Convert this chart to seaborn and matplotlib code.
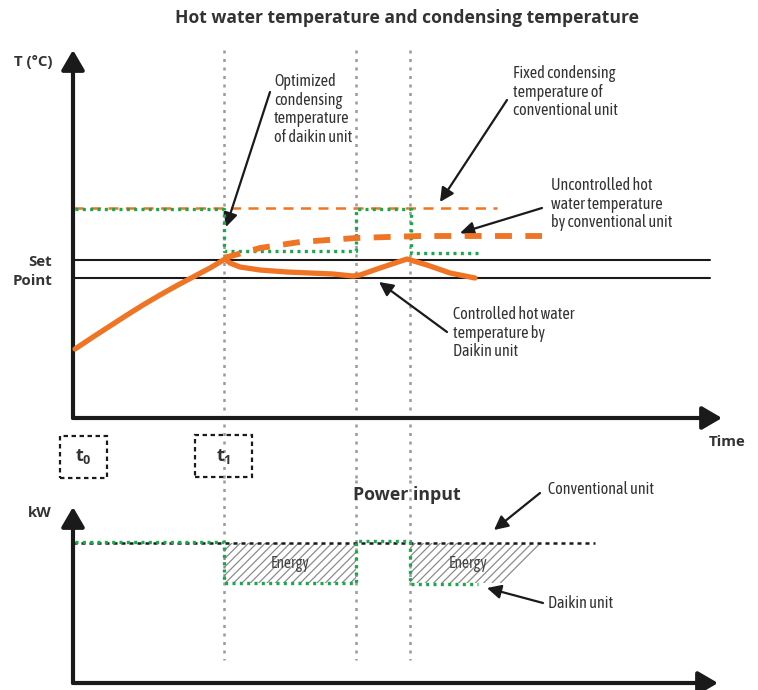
# -*- coding: utf-8 -*-
"""
Schema: hot water / condensing temperature and power input, conventional vs Daikin unit
"""
import numpy as np
import pandas as pd
import matplotlib
matplotlib.use('Agg')
import matplotlib.pyplot as plt
import seaborn as sns

# ---- data (schematic units: 1 time unit / 1 temp unit) ----
events = [15.1, 28.3, 33.7]          # t1, end of first cycle, restart

controlled_x = [0.2, 2.0, 3.7, 5.4, 7.0, 8.7, 10.4, 12.0, 13.7, 15.2,
                15.7, 16.7, 18.7, 21.4, 26.0, 28.0, 28.7, 30.7, 33.4, 35.4, 37.7, 40.2]
controlled_y = [6.9, 8.1, 9.2, 10.3, 11.3, 12.3, 13.25, 14.1, 15.0, 15.9,
                15.5, 15.1, 14.8, 14.6, 14.4, 14.2, 14.3, 15.0, 15.9, 15.3, 14.5, 14.0]

uncontrolled_x = [15.1, 18.7, 22.7, 28.3, 34.7, 46.9]
uncontrolled_y = [16.0, 17.0, 17.6, 18.0, 18.2, 18.2]

fixed_cond_x = [0.0, 42.4]
fixed_cond_y = [21.0, 21.0]

optim_cond_x = [0.2, 15.1, 15.1, 28.3, 28.3, 33.8, 33.8, 40.5]
optim_cond_y = [20.9, 20.9, 16.7, 16.7, 20.9, 20.9, 16.5, 16.5]

setpoint_hi = 15.8
setpoint_lo = 14.0
setpoint_end = 63.7

conv_power_x = [0.0, 52.2]
conv_power_y = [14.0, 14.0]
daikin_power_x = [0.2, 15.1, 15.1, 28.3, 28.3, 33.7, 33.7, 40.5]
daikin_power_y = [14.1, 14.1, 10.0, 10.0, 14.2, 14.2, 9.9, 9.9]

energy1_x = [15.1, 28.3, 28.3, 15.1]
energy1_y = [14.0, 14.0, 10.0, 10.0]
energy2_x = [33.7, 47.2, 43.4, 33.7]
energy2_y = [14.0, 14.0, 10.0, 10.0]

ORANGE = '#ef7423'
GREEN = '#17a84b'
GREY = '#9a9a9a'
TXT = '#333333'

sns.set_theme(style='white')
NARROW = ['Asap Condensed', 'Archivo Narrow', 'Liberation Sans Narrow', 'DejaVu Sans']
plt.rcParams['font.family'] = NARROW
plt.rcParams['hatch.linewidth'] = 0.9

fig = plt.figure(figsize=(7.58, 6.90), dpi=100)
# top panel occupies pixels 0..480, bottom panel 480..690
ax1 = fig.add_axes([0, 210 / 690, 1, 480 / 690])
ax2 = fig.add_axes([0, 0, 1, 210 / 690])
ax1.set_xlim(-7.3, 68.5)
ax1.set_ylim(-6.2, 41.8)
ax2.set_xlim(-7.3, 68.5)
ax2.set_ylim(-0.7, 20.3)
for a in (ax1, ax2):
    a.axis('off')

BOLD = dict(family=['Open Sans', 'DejaVu Sans'], fontweight='bold', color=TXT)


def axis_arrow(ax, tip):
    ax.annotate('', xy=tip, xytext=(0, 0),
                arrowprops=dict(arrowstyle='-|>,head_length=0.6,head_width=0.35',
                                lw=3, color='#1a1a1a', mutation_scale=20,
                                shrinkA=0, shrinkB=0))


def label_arrow(ax, text, xy, xytext, textpos, va='top'):
    ax.annotate('', xy=xy, xytext=xytext,
                arrowprops=dict(arrowstyle='-|>,head_length=0.6,head_width=0.3',
                                lw=1.6, color='#1a1a1a', mutation_scale=14,
                                shrinkA=0, shrinkB=0))
    ax.text(textpos[0], textpos[1], text, ha='left', va=va, fontsize=11.6,
            color=TXT, linespacing=1.12)


# ---------- TOP PANEL ----------
for t in events:
    ax1.plot([t, t], [36.8, -6.2], color=GREY, lw=1.8, ls=(0, (1.2, 2.2)), zorder=1)

ax1.plot([0, setpoint_end], [setpoint_hi, setpoint_hi], color='#1a1a1a', lw=1.5, zorder=2)
ax1.plot([0, setpoint_end], [setpoint_lo, setpoint_lo], color='#1a1a1a', lw=1.5, zorder=2)

sns.lineplot(x=fixed_cond_x, y=fixed_cond_y, ax=ax1, color=ORANGE, lw=1.8,
             estimator=None, sort=False, zorder=3).lines[-1].set_linestyle((0, (4, 3)))
sns.lineplot(x=optim_cond_x, y=optim_cond_y, ax=ax1, color=GREEN, lw=2.4,
             estimator=None, sort=False, zorder=4).lines[-1].set_linestyle((0, (0.9, 1.3)))
sns.lineplot(x=uncontrolled_x, y=uncontrolled_y, ax=ax1, color=ORANGE, lw=4.2,
             estimator=None, sort=False, zorder=5).lines[-1].set_linestyle((0, (2.9, 2.3)))
ln = sns.lineplot(x=controlled_x, y=controlled_y, ax=ax1, color=ORANGE, lw=3.8,
                  estimator=None, sort=False, zorder=6).lines[-1]
ln.set_solid_joinstyle('round')

axis_arrow(ax1, (0, 36.8))
axis_arrow(ax1, (64.9, 0))

ax1.text(33.4, 40.0, 'Hot water temperature and condensing temperature',
         ha='center', va='center', fontsize=12.6, **BOLD)
ax1.text(-2.1, 35.6, 'T (°C)', ha='right', va='center', fontsize=10.8, **BOLD)
ax1.text(-2.1, 15.6, 'Set', ha='right', va='center', fontsize=10.8, **BOLD)
ax1.text(-2.1, 13.7, 'Point', ha='right', va='center', fontsize=10.8, **BOLD)
ax1.text(65.4, -2.4, 'Time', ha='center', va='center', fontsize=10.8, **BOLD)

# t0 / t1 boxes
for (cx, cy, lab, w) in [(1.05, -3.9, r'$\mathregular{t_0}$', 4.7), (15.05, -3.8, r'$\mathregular{t_1}$', 5.7)]:
    ax1.add_patch(plt.Rectangle((cx - w / 2, cy - 2.1), w, 4.2, fill=False,
                                ec='#1a1a1a', lw=1.6, ls=(0, (2, 1.6)), zorder=7))
    ax1.text(cx, cy, lab, ha='center', va='center', fontsize=13,
             color=TXT, family=['Open Sans', 'DejaVu Sans'], fontweight='bold')

label_arrow(ax1, 'Optimized\ncondensing\ntemperature\nof daikin unit',
            (15.3, 19.1), (19.7, 32.6), (20.1, 34.5))
label_arrow(ax1, 'Fixed condensing\ntemperature of\nconventional unit',
            (36.7, 21.6), (43.4, 31.8), (44.0, 35.3))
label_arrow(ax1, 'Uncontrolled hot\nwater temperature\nby conventional unit',
            (38.7, 18.5), (46.9, 21.0), (47.8, 24.1))
label_arrow(ax1, 'Controlled hot water\ntemperature by\nDaikin unit',
            (30.6, 13.6), (37.4, 8.6), (38.0, 11.2))

# ---------- BOTTOM PANEL ----------
for t in events:
    ax2.plot([t, t], [20.3, 2.3], color=GREY, lw=1.8, ls=(0, (1.2, 2.2)), zorder=1)

for ex, ey in [(energy1_x, energy1_y), (energy2_x, energy2_y)]:
    ax2.fill(ex, ey, facecolor='none', edgecolor='#8c8c8c', hatch='////', lw=0, zorder=2)

sns.lineplot(x=conv_power_x, y=conv_power_y, ax=ax2, color='#1a1a1a', lw=1.8,
             estimator=None, sort=False, zorder=3).lines[-1].set_linestyle((0, (1.6, 1.6)))
sns.lineplot(x=daikin_power_x, y=daikin_power_y, ax=ax2, color=GREEN, lw=2.4,
             estimator=None, sort=False, zorder=4).lines[-1].set_linestyle((0, (0.9, 1.3)))

axis_arrow(ax2, (0, 17.6))
axis_arrow(ax2, (64.5, 0))

ax2.text(-3.3, 17.0, 'kW', ha='center', va='center', fontsize=10.8, **BOLD)
ax2.text(33.4, 18.8, 'Power input', ha='center', va='center', fontsize=12.8, **BOLD)
ax2.text(21.7, 12.0, 'Energy', ha='center', va='center', fontsize=11.2, color='#444444')
ax2.text(39.5, 12.0, 'Energy', ha='center', va='center', fontsize=11.2, color='#444444')

label_arrow(ax2, 'Conventional unit', (42.1, 15.3), (46.7, 19.0), (47.5, 19.4), va='center')
label_arrow(ax2, 'Daikin unit', (41.4, 9.5), (47.0, 8.0), (47.5, 8.0), va='center')

fig.savefig('out.png', dpi=100)
